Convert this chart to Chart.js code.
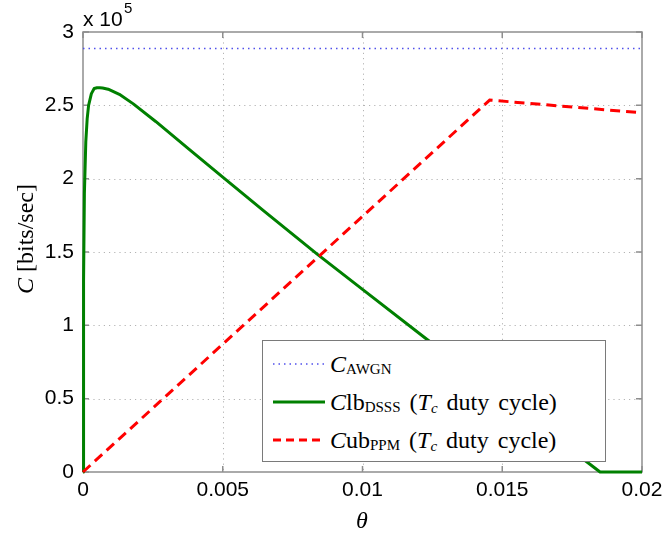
<!DOCTYPE html>
<html>
<head>
<meta charset="utf-8">
<script src="https://cdn.jsdelivr.net/npm/chart.js@4"></script>
<style>
  body { margin: 0; background: #fff; }
  #wrap { position: relative; width: 664px; height: 533px; overflow: hidden; }
  #chart { position: absolute; left: 0; top: 0; }
  .txt { position: absolute; white-space: nowrap; color: #000; line-height: 1; }
  .serif { font-family: 'Liberation Serif', 'Times New Roman', serif; }
  .sans { font-family: 'Liberation Sans', Arial, sans-serif; }
  #legend { position: absolute; left: 262px; top: 340px; width: 342px; height: 120px;
            border: 1px solid #7a7a7a; background: #fff; }
  .row { position: absolute; left: 10px; height: 30px; display: flex; align-items: flex-start;
         font-family: 'Liberation Serif', 'Times New Roman', serif; font-size: 24px; line-height: 30px;
         white-space: nowrap; color: #000; word-spacing: 3px; }
  .row svg { margin-right: 5px; flex: none; }
  .row sub { font-size: 15px; vertical-align: -2px; line-height: 0; }
  .row .sc { font-size: 15px; vertical-align: -3px; line-height: 0; font-style: italic; }
</style>
</head>
<body>
<div id="wrap">
  <canvas id="chart" width="664" height="533"></canvas>

  <span class="txt sans" style="left:83px; top:8px; font-size:21px;">x 10</span>
  <span class="txt sans" style="left:124px; top:0px; font-size:15px;">5</span>

  <div class="txt serif" style="left:25px; top:239px; font-size:24px; transform: translate(-50%,-50%) rotate(-90deg);"><i>C</i> [bits/sec]</div>
  <div class="txt serif" style="left:362px; top:520px; font-size:24px; transform: translate(-50%,-50%);"><i>θ</i></div>

  <div id="legend">
    <div class="row" style="top:8px;">
      <svg width="52" height="30"><line x1="0" y1="15" x2="52" y2="15" stroke="rgb(80,80,235)" stroke-width="1.5" stroke-dasharray="1.5 4"/></svg>
      <span><i>C</i><sub>AWGN</sub></span>
    </div>
    <div class="row" style="top:46px;">
      <svg width="52" height="30"><line x1="0" y1="15" x2="52" y2="15" stroke="rgb(0,128,0)" stroke-width="3"/></svg>
      <span><i>C</i>lb<sub>DSSS</sub> (<i>T</i><span class="sc">c</span> duty cycle)</span>
    </div>
    <div class="row" style="top:84px;">
      <svg width="52" height="30"><line x1="0" y1="15" x2="52" y2="15" stroke="rgb(255,0,0)" stroke-width="3" stroke-dasharray="8 5"/></svg>
      <span><i>C</i>ub<sub>PPM</sub> (<i>T</i><span class="sc">c</span> duty cycle)</span>
    </div>
  </div>
</div>

<script>
// ---- data (C in bits/sec, theta dimensionless) ----
const thetaAWGN = [0, 0.02];
const capAWGN   = [288800, 288800];

const thetaDSSS = [0, 0.00002, 0.00005, 0.0001, 0.00015, 0.0002, 0.0003, 0.0004, 0.0005, 0.0006, 0.0007,
                   0.0009, 0.0013, 0.0018, 0.0026, 0.0038, 0.005, 0.0065, 0.0084, 0.01, 0.0123, 0.015, 0.0185, 0.02];
const capDSSS   = [0, 130000, 190000, 225000, 241000, 250000, 258000, 261500, 262000, 262000, 261800,
                   261000, 257500, 251000, 239000, 220000, 201000, 177500, 148200, 124500, 90500, 51000, 0, 0];

const thetaPPM  = [0, 0.01455, 0.02];
const capPPM    = [0, 253600, 244900];

const xTicks      = [0, 0.005, 0.01, 0.015, 0.02];
const xTickLabels = ['0', '0.005', '0.01', '0.015', '0.02'];
const yTicks      = [0, 50000, 100000, 150000, 200000, 250000, 300000];
const yTickLabels = ['0', '0.5', '1', '1.5', '2', '2.5', '3'];

const pts = (xs, ys) => xs.map((x, i) => ({ x: x, y: ys[i] }));

// MATLAB-style axes: dotted grid, box, inward ticks on all four sides
const matlabAxes = {
  id: 'matlabAxes',
  beforeDatasetsDraw(chart) {
    const { ctx, chartArea: { left, right, top, bottom }, scales: { x, y } } = chart;
    ctx.save();
    ctx.lineWidth = 1;
    ctx.strokeStyle = '#b4b4b4';
    ctx.setLineDash([1.2, 4]);
    xTicks.forEach(v => {
      const px = Math.round(x.getPixelForValue(v)) + 0.5;
      if (px <= left + 1 || px >= right - 1) return;
      ctx.beginPath(); ctx.moveTo(px, top); ctx.lineTo(px, bottom); ctx.stroke();
    });
    yTicks.forEach(v => {
      const py = Math.round(y.getPixelForValue(v)) + 0.5;
      if (py <= top + 1 || py >= bottom - 1) return;
      ctx.beginPath(); ctx.moveTo(left, py); ctx.lineTo(right, py); ctx.stroke();
    });
    ctx.setLineDash([]);
    ctx.strokeStyle = '#8e8e8e';
    ctx.lineWidth = 1.5;
    ctx.strokeRect(left, top, right - left, bottom - top);
    const tl = 6;
    ctx.beginPath();
    xTicks.forEach(v => {
      const px = x.getPixelForValue(v);
      ctx.moveTo(px, bottom); ctx.lineTo(px, bottom - tl);
      ctx.moveTo(px, top); ctx.lineTo(px, top + tl);
    });
    yTicks.forEach(v => {
      const py = y.getPixelForValue(v);
      ctx.moveTo(left, py); ctx.lineTo(left + tl, py);
      ctx.moveTo(right, py); ctx.lineTo(right - tl, py);
    });
    ctx.stroke();
    ctx.restore();
  }
};

const tickFont = { family: "'Liberation Sans', Arial, sans-serif", size: 21 };

new Chart(document.getElementById('chart'), {
  type: 'scatter',
  data: {
    datasets: [
      { label: 'C_AWGN', data: pts(thetaAWGN, capAWGN), showLine: true, pointRadius: 0,
        borderColor: 'rgb(80,80,235)', borderWidth: 1.5, borderDash: [1.5, 4], order: 2, clip: 4 },
      { label: 'Clb_DSSS', data: pts(thetaDSSS, capDSSS), showLine: true, pointRadius: 0,
        borderColor: 'rgb(0,128,0)', borderWidth: 3, tension: 0, borderJoinStyle: 'round', order: 1, clip: 4 },
      { label: 'Cub_PPM', data: pts(thetaPPM, capPPM), showLine: true, pointRadius: 0,
        borderColor: 'rgb(255,0,0)', borderWidth: 3, borderDash: [10, 6], order: 0, clip: 4 }
    ]
  },
  options: {
    responsive: false,
    animation: false,
    devicePixelRatio: 1,
    layout: { padding: { top: 32, right: 22, left: 0, bottom: 0 } },
    plugins: { legend: { display: false }, tooltip: { enabled: false } },
    scales: {
      x: {
        type: 'linear', min: 0, max: 0.02,
        grid: { display: false, drawTicks: false },
        border: { display: false },
        afterBuildTicks: s => { s.ticks = xTicks.map(v => ({ value: v })); },
        afterFit: s => { s.height = 61; s.paddingLeft = 0; s.paddingRight = 0; },
        ticks: { autoSkip: false, maxRotation: 0, padding: 6, color: '#000', font: tickFont,
                 callback: (v, i) => xTickLabels[i] }
      },
      y: {
        type: 'linear', min: 0, max: 300000,
        grid: { display: false, drawTicks: false },
        border: { display: false },
        afterBuildTicks: s => { s.ticks = yTicks.map(v => ({ value: v })); },
        afterFit: s => { s.width = 83; s.paddingTop = 0; s.paddingBottom = 0; },
        ticks: { autoSkip: false, padding: 9, color: '#000', font: tickFont,
                 callback: (v, i) => yTickLabels[i] }
      }
    }
  },
  plugins: [matlabAxes]
});
</script>
</body>
</html>
